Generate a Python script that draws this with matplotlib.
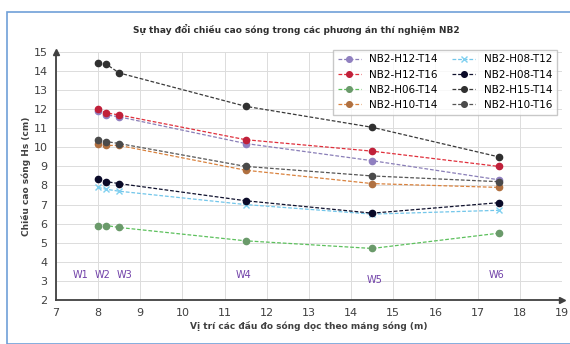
import matplotlib.pyplot as plt
from matplotlib.patches import Rectangle

# vi tri cac dau do song (m)
x_pos = [8.0, 8.2, 8.5, 11.5, 14.5, 17.5]

labels = ["NB2-H12-T14", "NB2-H12-T16", "NB2-H06-T14", "NB2-H10-T14",
          "NB2-H08-T12", "NB2-H08-T14", "NB2-H15-T14", "NB2-H10-T16"]

h12_t14 = [11.9, 11.7, 11.6, 10.2, 9.3, 8.3]
h12_t16 = [12.0, 11.8, 11.7, 10.4, 9.8, 9.0]
h06_t14 = [5.9, 5.9, 5.8, 5.1, 4.7, 5.5]
h10_t14 = [10.2, 10.1, 10.1, 8.8, 8.1, 7.9]
h08_t12 = [7.9, 7.8, 7.7, 7.0, 6.5, 6.7]
h08_t14 = [8.35, 8.2, 8.1, 7.2, 6.55, 7.1]
h15_t14 = [14.4, 14.35, 13.9, 12.15, 11.05, 9.5]
h10_t16 = [10.4, 10.3, 10.2, 9.0, 8.5, 8.2]

series = [h12_t14, h12_t16, h06_t14, h10_t14, h08_t12, h08_t14, h15_t14, h10_t16]
colors = ["#8a7fb8", "#e0303c", "#5cc05c", "#d9823e",
          "#72c6ea", "#10122e", "#3a3a3a", "#555555"]
mcolors = ["#9080c0", "#c0203a", "#6a9a6a", "#b07040",
           "#80d0f0", "#0a0a28", "#303030", "#4a4a4a"]
markers = ["o", "o", "o", "o", "x", "o", "o", "o"]

# nhan dau do
w_names = ["W1", "W2", "W3", "W4", "W5", "W6"]
w_x = [7.58, 8.1, 8.62, 11.45, 14.55, 17.45]
w_y = [3.3, 3.3, 3.3, 3.3, 3.05, 3.3]

fig = plt.figure(figsize=(5.7, 3.44), dpi=100)
fig.patches.append(Rectangle((0.012, 0.0), 0.99, 0.965, transform=fig.transFigure,
                             fill=False, edgecolor="#6fa0d8", linewidth=1.2))
ax = fig.add_axes([0.098, 0.128, 0.888, 0.721])

for y, lab, c, mc, m in zip(series, labels, colors, mcolors, markers):
    ax.plot(x_pos, y, linestyle=(0, (3, 1.5)), linewidth=0.9, color=c,
            marker=m, markersize=4.5, markerfacecolor=mc, markeredgecolor=mc,
            label=lab)

for name, xx, yy in zip(w_names, w_x, w_y):
    ax.text(xx, yy, name, color="#7040a8", fontsize=7, ha="center", va="center")

ax.set_xlim(7, 19)
ax.set_ylim(2, 15)
ax.set_xticks(range(7, 20))
ax.set_yticks(range(2, 16))
ax.grid(True, color="#dcdcdc", linewidth=0.7)
ax.set_axisbelow(True)
for s in ["top", "right"]:
    ax.spines[s].set_visible(False)
for s in ["left", "bottom"]:
    ax.spines[s].set_color("#404040")
    ax.spines[s].set_linewidth(1.3)
ax.plot(1, 0, ">", color="#404040", markersize=4, transform=ax.transAxes, clip_on=False)
ax.plot(0, 1, "^", color="#404040", markersize=4, transform=ax.transAxes, clip_on=False)
ax.tick_params(length=0, labelsize=8, labelcolor="#404040", pad=6)

ax.set_xlabel("Vị trí các đầu đo sóng dọc theo máng sóng (m)", fontsize=6.5,
              fontweight="bold", color="#404040", labelpad=2)
ax.set_ylabel("Chiều cao sóng Hs (cm)", fontsize=6.5, fontweight="bold",
              color="#404040", labelpad=2)
fig.text(0.52, 0.913, "Sự thay đổi chiều cao sóng trong các phương án thí nghiệm NB2",
         fontsize=6.5, fontweight="bold", color="#303030", ha="center", va="center")

ax.legend(ncol=2, loc="upper right", bbox_to_anchor=(1.0, 1.03), fontsize=7.5,
          frameon=True, fancybox=False, edgecolor="#bbbbbb", handlelength=2.2,
          columnspacing=1.4, labelspacing=0.5, borderpad=0.45, markerscale=0.9)

fig.savefig("out.png", dpi=100)
